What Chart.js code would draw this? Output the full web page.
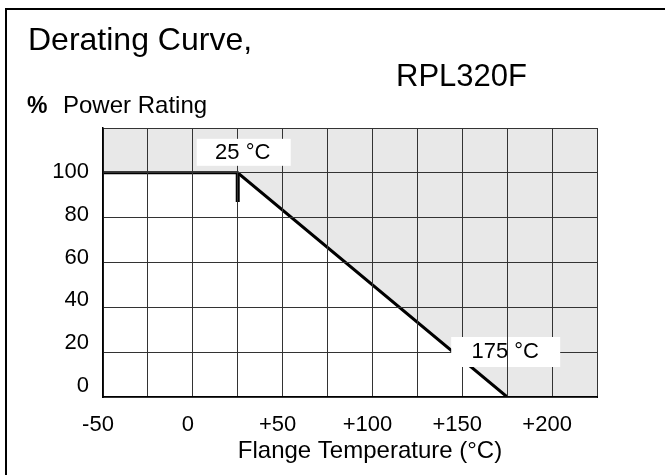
<!DOCTYPE html>
<html>
<head>
<meta charset="utf-8">
<script src="https://cdn.jsdelivr.net/npm/chart.js@4/dist/chart.umd.min.js"></script>
<style>
  html, body { margin: 0; background: #fff; overflow: hidden; }
  #frame { position: absolute; left: 5px; top: 8px; width: 680px; height: 480px;
           border-left: 2px solid #000; border-top: 2px solid #000; }
  #myChart { position: absolute; left: 0; top: 0; }
</style>
</head>
<body>
<div id="frame"></div>
<canvas id="myChart" width="665" height="475"></canvas>
<script>
// derating curve points
var temps = [-50, 25, 175, 225];
var power = [100, 100, 0, 0];

// short thick marks at the two break points
var mark25 = [{ x: 25, y: 100 }, { x: 25, y: 87 }];
var mark175 = [{ x: 175, y: 0 }, { x: 175, y: 11 }];

// grid and tick labels
var xGrid = [-50, -25, 0, 25, 50, 75, 100, 125, 150, 175, 200, 225];
var xLabels = ['-50', '', '0', '', '+50', '', '+100', '', '+150', '', '+200', ''];
var yGrid = [0, 20, 40, 60, 80, 100, 120];
var yTicks = [0, 20, 40, 60, 80, 100];
var yLabels = ['0', '20', '40', '60', '80', '100'];

var FONT = '"Liberation Sans", Arial, sans-serif';

var textPlugin = {
    id: 'texts',
    afterDraw: function (chart) {
        var ctx = chart.ctx;
        var xs = chart.scales.x, ys = chart.scales.y;
        ctx.save();
        ctx.fillStyle = '#000';
        ctx.textBaseline = 'alphabetic';
        ctx.textAlign = 'left';
        ctx.font = '32px ' + FONT;
        ctx.fillText('Derating Curve,', 28, 50);
        ctx.font = '31px ' + FONT;
        ctx.fillText('RPL320F', 396, 86);
        ctx.font = 'bold 23px ' + FONT;
        ctx.fillText('%', 27, 113);
        ctx.font = '24px ' + FONT;
        ctx.fillText('Power Rating', 63, 113);
        ctx.textAlign = 'center';
        ctx.fillText('Flange Temperature (°C)', 370, 458);

        // boxed labels at the break points
        ctx.font = '22px ' + FONT;
        ctx.textBaseline = 'middle';
        var bx = xs.getPixelForValue(25), by = ys.getPixelForValue(100);
        ctx.fillStyle = '#fff';
        ctx.fillRect(bx - 41, by - 34, 94, 27);
        ctx.fillStyle = '#000';
        ctx.fillText('25 °C', bx + 5, by - 20);

        bx = xs.getPixelForValue(175); by = ys.getPixelForValue(0);
        ctx.fillStyle = '#fff';
        ctx.fillRect(bx - 56, by - 60, 109, 30);
        ctx.strokeStyle = '#333';
        ctx.lineWidth = 1;
        ctx.beginPath();
        ctx.moveTo(Math.round(bx) + 0.5, by - 60);
        ctx.lineTo(Math.round(bx) + 0.5, by - 30);
        ctx.stroke();
        ctx.fillStyle = '#000';
        ctx.fillText('175 °C', bx - 2, by - 45);
        ctx.restore();
    }
};

var ctx = document.getElementById('myChart').getContext('2d');
var chart = new Chart(ctx, {
    type: 'line',
    data: {
        datasets: [{
            data: temps.map(function (t, i) { return { x: t, y: power[i] }; }),
            borderColor: '#000',
            borderWidth: 3,
            backgroundColor: '#e8e8e8',
            fill: 'end',
            pointRadius: 0,
            tension: 0,
            segment: {
                borderColor: function (c) { return c.p0DataIndex === 2 ? 'rgba(0,0,0,0)' : undefined; }
            }
        }, {
            data: mark25,
            borderColor: '#000',
            borderWidth: 4,
            pointRadius: 0,
            fill: false
        }, {
            data: mark175,
            borderColor: '#000',
            borderWidth: 4,
            pointRadius: 0,
            fill: false
        }]
    },
    options: {
        responsive: false,
        animation: false,
        layout: { padding: { top: 128, right: 68, bottom: 0, left: 0 } },
        plugins: {
            legend: { display: false },
            tooltip: { enabled: false }
        },
        scales: {
            x: {
                type: 'linear',
                min: -50,
                max: 225,
                afterBuildTicks: function (s) { s.ticks = xGrid.map(function (v) { return { value: v }; }); },
                afterFit: function (s) { s.height = 78; },
                ticks: {
                    autoSkip: false,
                    maxRotation: 0,
                    padding: 15,
                    labelOffset: -5,
                    color: '#000',
                    font: { family: FONT, size: 22 },
                    callback: function (v, i) { return xLabels[i]; }
                },
                grid: { color: '#333', lineWidth: 1, drawTicks: false, z: 1 },
                border: { color: '#000', width: 2, z: 1 }
            },
            y: {
                type: 'linear',
                position: 'left',
                weight: 0,
                min: 0,
                max: 120,
                afterBuildTicks: function (s) { s.ticks = yGrid.map(function (v) { return { value: v }; }); },
                afterFit: function (s) { s.width = 0; },
                ticks: { display: false },
                grid: { color: '#333', lineWidth: 1, drawTicks: false, z: 1 },
                border: { color: '#000', width: 1.5, z: 1 }
            },
            yLab: {
                type: 'linear',
                position: 'left',
                weight: 1,
                min: -5.14,
                max: 120.56,
                afterBuildTicks: function (s) { s.ticks = yTicks.map(function (v) { return { value: v }; }); },
                afterFit: function (s) { s.width = 103; },
                ticks: {
                    padding: 14,
                    color: '#000',
                    font: { family: FONT, size: 22 },
                    callback: function (v, i) { return yLabels[i]; }
                },
                grid: { display: false, drawTicks: false },
                border: { display: false }
            }
        }
    },
    plugins: [textPlugin]
});
</script>
</body>
</html>
